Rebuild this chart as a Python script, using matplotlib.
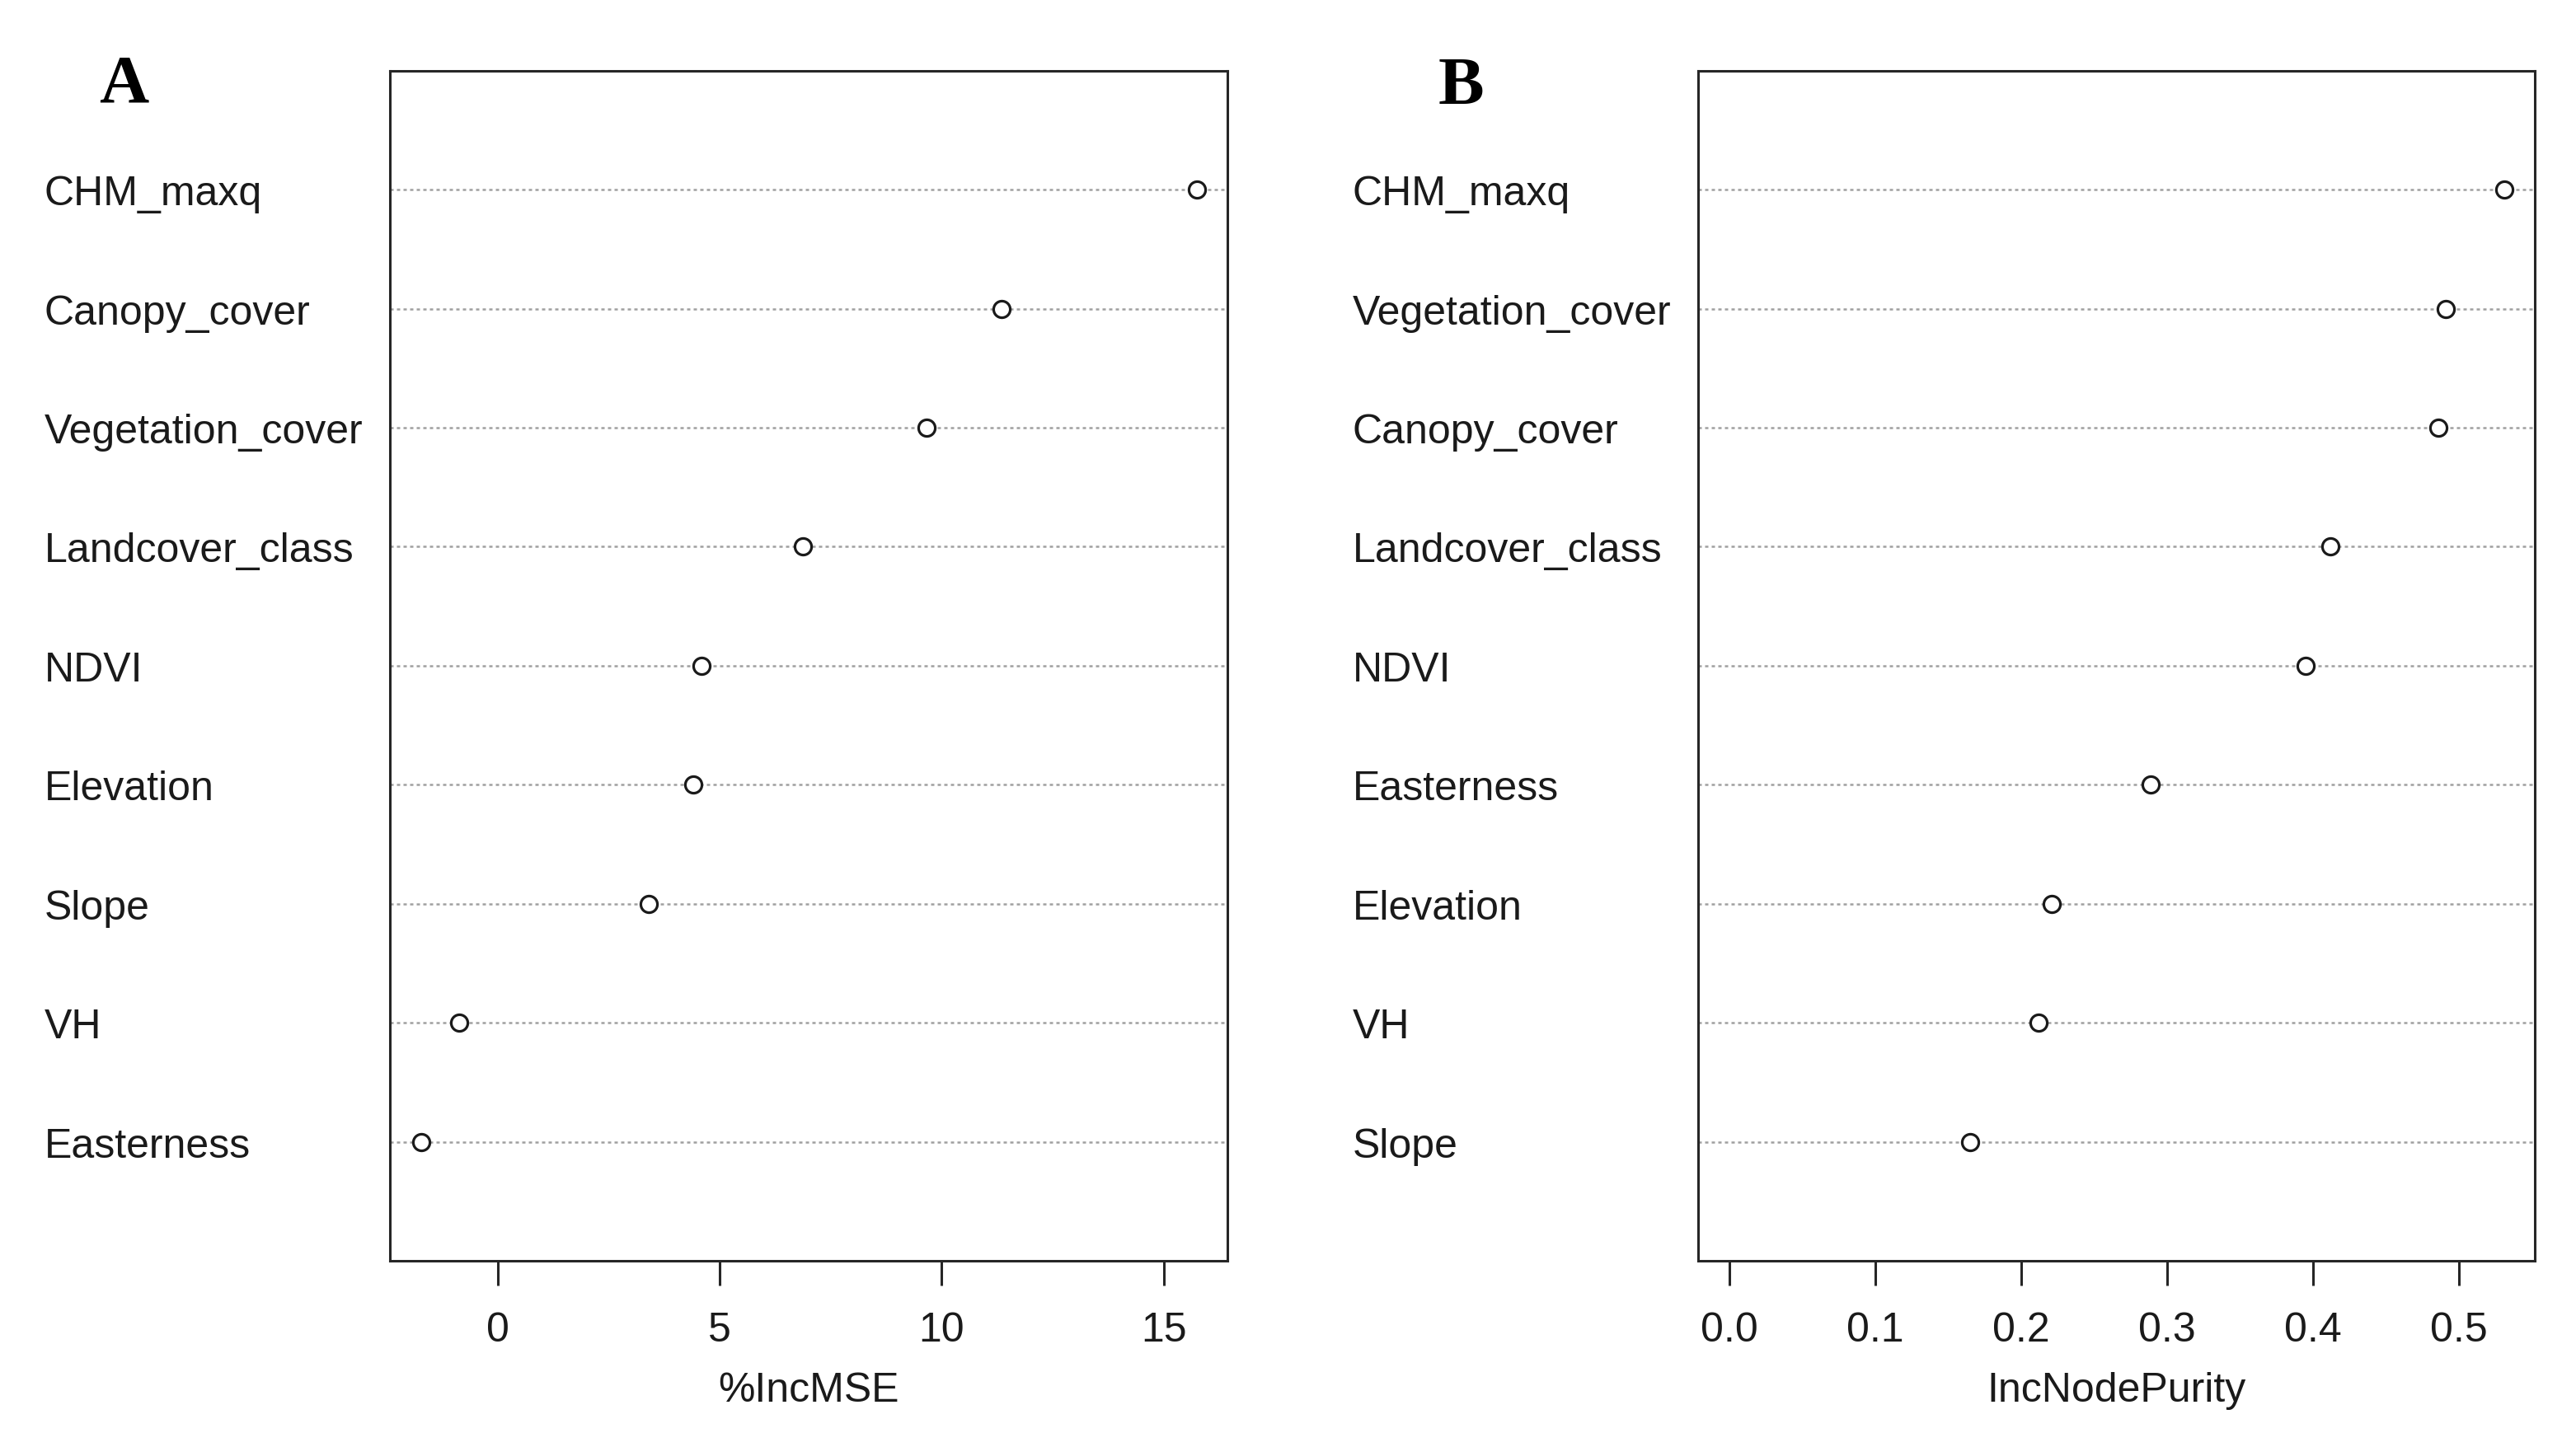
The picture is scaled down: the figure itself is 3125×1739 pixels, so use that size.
import matplotlib
matplotlib.use("Agg")
import matplotlib.pyplot as plt

# Panel A: %IncMSE (top to bottom)
vars_a = ["CHM_maxq", "Canopy_cover", "Vegetation_cover", "Landcover_class",
          "NDVI", "Elevation", "Slope", "VH", "Easterness"]
vals_a = [15.74, 11.35, 9.65, 6.88, 4.59, 4.41, 3.40, -0.87, -1.72]
ticks_a = [0, 5, 10, 15]
xlabel_a = "%IncMSE"

# Panel B: IncNodePurity (top to bottom)
vars_b = ["CHM_maxq", "Vegetation_cover", "Canopy_cover", "Landcover_class",
          "NDVI", "Easterness", "Elevation", "VH", "Slope"]
vals_b = [0.531, 0.491, 0.486, 0.412, 0.395, 0.289, 0.221, 0.212, 0.165]
ticks_b = [0.0, 0.1, 0.2, 0.3, 0.4, 0.5]
tick_labels_b = ["0.0", "0.1", "0.2", "0.3", "0.4", "0.5"]
xlabel_b = "IncNodePurity"

panel_letters = ["A", "B"]

W, H = 3125, 1740
DPI = 100
fig = plt.figure(figsize=(W / DPI, H / DPI), dpi=DPI)
fig.patch.set_facecolor("white")

SANS = ["Liberation Sans", "DejaVu Sans"]
SERIF = ["Liberation Serif", "DejaVu Serif"]
FS = 36
TXT = "#1a1a1a"
LINE = "#262626"

def px2fig(x0, y_top, x1, y_bot):
    return [x0 / W, (H - y_bot) / H, (x1 - x0) / W, (y_bot - y_top) / H]

def panel(rect, names, vals, ticks, ticklabels, xlabel, letter, letter_xy):
    ax = fig.add_axes(rect)
    n = len(vals)
    ys = [n - i for i in range(n)]
    lo = min(0, min(vals))
    hi = max(vals)
    ext = 0.04 * (hi - lo)
    ax.set_xlim(lo - ext, hi + ext)
    ax.set_ylim(0, n + 1)
    for y in ys:
        ax.axhline(y, color="#a0a0a0", lw=1.8, linestyle=(0, (1.6, 1.6)), zorder=1)
    ax.plot(vals, ys, linestyle="none", marker="o", ms=14.5, mew=2.3,
            mfc="white", mec="#1a1a1a", zorder=3)
    ax.set_yticks(ys)
    ax.set_yticklabels(names, ha="left", fontsize=FS, family=SANS, color=TXT)
    ax.tick_params(axis="y", length=0, pad=302)
    ax.set_xticks(ticks)
    ax.set_xticklabels(ticklabels, fontsize=FS, family=SANS, color=TXT)
    ax.tick_params(axis="x", length=21.6, width=2.2, color=LINE, pad=22, direction="out")
    for s in ax.spines.values():
        s.set_linewidth(2.2)
        s.set_color(LINE)
    ax.set_xlabel(xlabel, fontsize=FS, family=SANS, color=TXT, labelpad=20)
    fig.text(letter_xy[0] / W, 1 - letter_xy[1] / H, letter, fontsize=60,
             family=SERIF, fontweight="bold", ha="center", va="center", color="black")
    return ax

panel(px2fig(473.3, 86.7, 1489.3, 1531), vars_a, vals_a, ticks_a,
      [str(t) for t in ticks_a], xlabel_a, panel_letters[0], (150, 104))
panel(px2fig(2060, 86.7, 3075.3, 1531), vars_b, vals_b, ticks_b,
      tick_labels_b, xlabel_b, panel_letters[1], (1772, 107))

fig.savefig("out.png", dpi=DPI, facecolor="white")
